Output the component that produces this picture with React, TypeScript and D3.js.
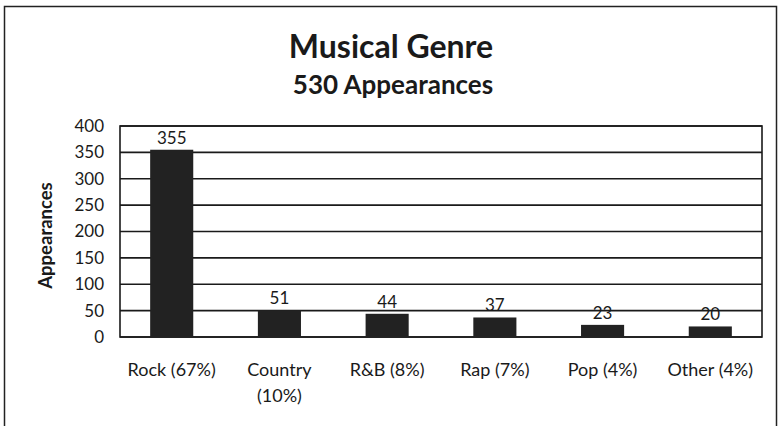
import React from "react";
import * as d3 from "d3";

const categories = ["Rock (67%)", "Country\n(10%)", "R&B (8%)", "Rap (7%)", "Pop (4%)", "Other (4%)"];
const values = [355, 51, 44, 37, 23, 20];
const yTicks = [0, 50, 100, 150, 200, 250, 300, 350, 400];
const title = "Musical Genre";
const subtitle = "530 Appearances";
const yLabel = "Appearances";

const W = 779;
const H = 426;
const FONT = "Lato, 'Open Sans', 'DejaVu Sans', sans-serif";

export default function App() {
  const left = 120, right = 762, top = 126, bottom = 337;
  const x = d3.scaleBand<string>().domain(categories).range([left, right]).paddingInner(0.6).paddingOuter(0.28);
  const y = d3.scaleLinear().domain([0, 400]).range([bottom, top]);
  return (
    <svg width={W} height={H} style={{ position: "absolute", left: 0, top: 0, background: "#fff" }}>
      <rect x={4.5} y={6.5} width={772} height={430} fill="#fff" stroke="#222" strokeWidth={1.5} />
      <text x={391} y={58} textAnchor="middle" fontFamily={FONT} fontWeight="bold" fontSize={32} fill="#1a1a1a">{title}</text>
      <text x={393} y={94} textAnchor="middle" fontFamily={FONT} fontWeight="bold" fontSize={26} fill="#1a1a1a">{subtitle}</text>
      {yTicks.map((t) => (
        <g key={t}>
          <line x1={left} x2={right} y1={y(t)} y2={y(t)} stroke="#1a1a1a" strokeWidth={1.6} />
          <text x={left - 16} y={y(t)} dy="0.35em" textAnchor="end" fontFamily={FONT} fontSize={17} fill="#1a1a1a">{t}</text>
        </g>
      ))}
      <rect x={left} y={top} width={right - left} height={bottom - top} fill="none" stroke="#1a1a1a" strokeWidth={1.6} />
      {categories.map((c, i) => (
        <g key={c}>
          <rect x={x(c)} y={y(values[i])} width={x.bandwidth()} height={bottom - y(values[i])} fill="#222" />
          <text x={(x(c) as number) + x.bandwidth() / 2} y={y(values[i]) - 6} textAnchor="middle" fontFamily={FONT} fontSize={17} fill="#1a1a1a">{values[i]}</text>
          {c.split("\n").map((line, j) => (
            <text key={j} x={(x(c) as number) + x.bandwidth() / 2} y={376 + j * 26} textAnchor="middle" fontFamily={FONT} fontSize={18} fill="#1a1a1a">{line}</text>
          ))}
        </g>
      ))}
      <text transform={`translate(52,${(top + bottom) / 2 + 4}) rotate(-90)`} textAnchor="middle" fontFamily={FONT} fontWeight="bold" fontSize={18.5} fill="#1a1a1a">{yLabel}</text>
    </svg>
  );
}
